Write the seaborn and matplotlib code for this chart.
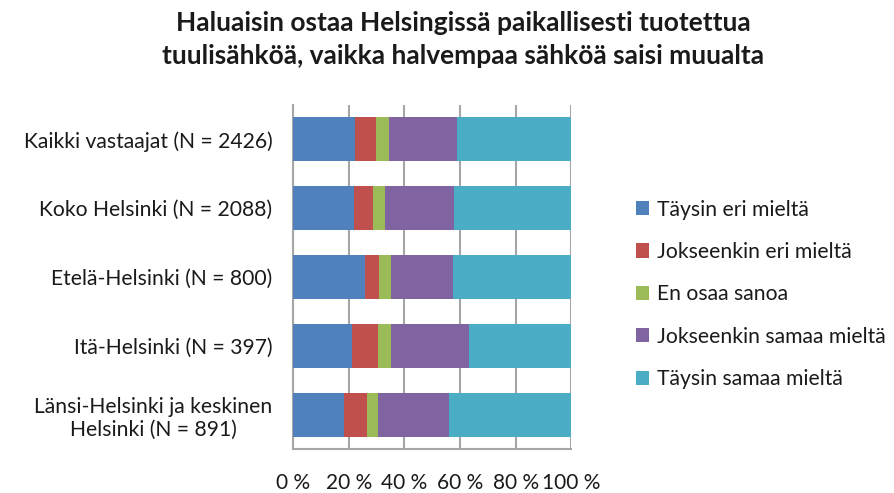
import matplotlib
matplotlib.use("Agg")
import matplotlib.pyplot as plt
import matplotlib.patches as mpatches
import numpy as np
import pandas as pd
import seaborn as sns

groups = [
    "Kaikki vastaajat (N = 2426)",
    "Koko Helsinki (N = 2088)",
    "Etelä-Helsinki (N = 800)",
    "Itä-Helsinki (N = 397)",
    "Länsi-Helsinki ja keskinen\nHelsinki (N = 891)",
]
answers = [
    "Täysin eri mieltä",
    "Jokseenkin eri mieltä",
    "En osaa sanoa",
    "Jokseenkin samaa mieltä",
    "Täysin samaa mieltä",
]
# shares (%) per group, in the order of `answers`
taysin_eri = [22.3, 21.7, 25.8, 21.3, 18.1]
jokseenkin_eri = [7.4, 7.1, 4.9, 9.3, 8.3]
en_osaa = [4.6, 4.3, 4.3, 4.7, 4.2]
jokseenkin_samaa = [24.5, 24.7, 22.4, 27.9, 25.4]
taysin_samaa = [41.2, 42.2, 42.6, 36.8, 44.0]

colors = ["#4F81BD", "#C0504D", "#9BBB59", "#8064A2", "#4BACC6"]
xticks = [0, 20, 40, 60, 80, 100]
xticklabels = ["0 %", "20 %", "40 %", "60 %", "80 %", "100 %"]

sns.set_theme(style="white")
plt.rcParams["font.family"] = ["Lato", "DejaVu Sans"]

series = [taysin_eri, jokseenkin_eri, en_osaa, jokseenkin_samaa, taysin_samaa]
df = pd.DataFrame({a: s for a, s in zip(answers, series)})
df["ryhmä"] = groups
cum = df[answers].cumsum(axis=1)

fig = plt.figure(figsize=(8.94, 4.93), dpi=100)
ax = fig.add_axes([0.328, 0.089, 0.311, 0.698])

# stacked bars: draw cumulative totals from the widest down
for ans, col in reversed(list(zip(answers, colors))):
    sns.barplot(x=cum[ans], y=df["ryhmä"], orient="h", color=col,
                width=0.64, saturation=1, ax=ax, zorder=3, linewidth=0)

ax.set_xlim(0, 100)
ax.set_ylim(4.5, -0.5)
ax.set_xticks(xticks)
ax.set_xticklabels(xticklabels, fontsize=15, color="#1a1a1a")
ax.tick_params(axis="x", pad=17, length=0)
ax.tick_params(axis="y", pad=15, length=0)
for lab in ax.get_yticklabels():
    lab.set_fontsize(15.2)
    lab.set_color("#1a1a1a")
    lab.set_multialignment("center")
ax.set_xlabel("")
ax.set_ylabel("")
ax.grid(axis="x", color="#A6A6A6", linewidth=1.5, zorder=0)
ax.grid(axis="y", visible=False)
for side in ["top", "right"]:
    ax.spines[side].set_visible(False)
for side in ["left", "bottom"]:
    ax.spines[side].set_color("#A6A6A6")
    ax.spines[side].set_linewidth(1.5)

handles = [mpatches.Patch(facecolor=c, edgecolor="none") for c in colors]
fig.legend(handles, answers, loc="center left", bbox_to_anchor=(0.711, 0.403),
           frameon=False, fontsize=15.2, handlelength=0.65, handleheight=0.65,
           handletextpad=0.35, labelspacing=1.06, labelcolor="#1a1a1a",
           borderpad=0, borderaxespad=0)

fig.text(0.518, 0.977, "Haluaisin ostaa Helsingissä paikallisesti tuotettua\n"
         "tuulisähköä, vaikka halvempaa sähköä saisi muualta",
         ha="center", va="top", fontsize=19, fontweight="bold",
         linespacing=1.45, color="#1a1a1a")

fig.savefig("out.png", dpi=100)
